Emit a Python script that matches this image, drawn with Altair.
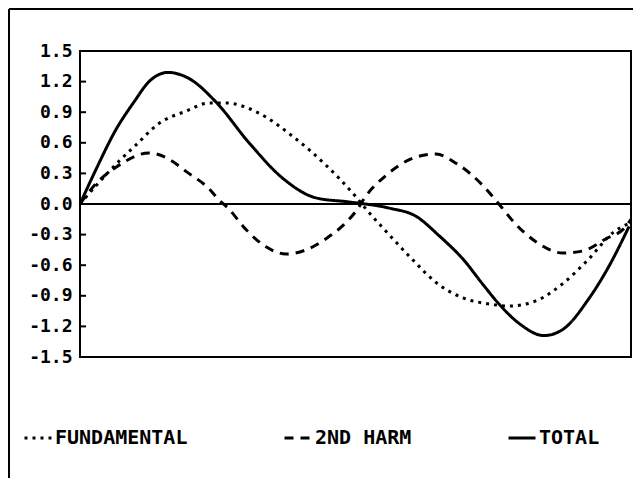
import altair as alt
import pandas as pd

# phase (degrees) and amplitude readings for each curve
fund_x = [0, 9.9, 24.1, 34.6, 48.7, 65.4, 79.6, 90.1, 110.5, 131.5, 151.8, 170.3, 176.5,
          190.7, 205.5, 219.7, 236.3, 252.4, 264.7, 281.3, 297.9, 313.9, 328.9, 338.8]
fund_y = [0, 0.18, 0.42, 0.58, 0.79, 0.91, 0.99, 0.99, 0.89, 0.66, 0.38, 0.07, -0.05,
          -0.3, -0.55, -0.77, -0.92, -0.98, -1.0, -0.95, -0.78, -0.54, -0.28, -0.19]

harm_x = [0, 9.9, 22.2, 42.6, 54.9, 65.4, 79.6, 85.8, 91.9, 102.4, 114.8, 127.1, 139.4,
          151.8, 162.3, 170.3, 176.5, 188.8, 207.3, 219.7, 232.0, 248.7, 258.5, 269.0,
          281.3, 297.9, 310.4, 324.6, 336.9, 340.0]
harm_y = [0, 0.2, 0.36, 0.5, 0.44, 0.32, 0.15, 0.04, -0.05, -0.25, -0.42, -0.49, -0.45,
          -0.34, -0.21, -0.07, 0.08, 0.28, 0.46, 0.49, 0.4, 0.18, 0.0, -0.2,
          -0.37, -0.48, -0.46, -0.34, -0.22, -0.15]

total_x = [0, 9.9, 22.2, 33.3, 42.6, 54.3, 67.3, 83.9, 104.3, 125.3, 145.6, 166.0, 190.7,
           207.3, 221.5, 236.3, 248.7, 258.5, 270.9, 286.3, 297.9, 313.9, 326.4, 338.8]
total_y = [0, 0.34, 0.73, 1.0, 1.2, 1.29, 1.23, 1.0, 0.6, 0.25, 0.06, 0.02, -0.04,
           -0.12, -0.31, -0.54, -0.79, -0.98, -1.17, -1.29, -1.23, -0.93, -0.61, -0.22]

series = ["FUNDAMENTAL", "2ND HARM", "TOTAL"]
tick_values = [1.5, 1.2, 0.9, 0.6, 0.3, 0.0, -0.3, -0.6, -0.9, -1.2, -1.5]

rows = []
for name, xs, ys in [(series[0], fund_x, fund_y), (series[1], harm_x, harm_y), (series[2], total_x, total_y)]:
    for i, (a, b) in enumerate(zip(xs, ys)):
        rows.append({"series": name, "deg": a, "value": b, "order": i})
df = pd.DataFrame(rows)

FONT = "DejaVu Sans Mono"

yscale = alt.Scale(domain=[-1.5, 1.5], nice=False, zero=False)
yaxis = alt.Axis(values=tick_values, ticks=False, domain=False, grid=False,
                 labelExpr="(datum.value < -0.001 ? '-' : '') + format(abs(datum.value), '.1f')",
                 labelFont=FONT, labelFontWeight="bold", labelFontSize=18,
                 labelColor="black", labelPadding=8)


def y_enc():
    return alt.Y("value:Q", scale=yscale, axis=yaxis, title=None)


lines = alt.Chart(df).mark_line(color="black", strokeWidth=3, interpolate="monotone").encode(
    x=alt.X("deg:Q", scale=alt.Scale(domain=[0, 340], nice=False, zero=False), axis=None),
    y=y_enc(),
    order="order:Q",
    strokeDash=alt.StrokeDash(
        "series:N", title=None,
        scale=alt.Scale(domain=series, range=[[3, 5], [9, 7], [1, 0]]),
        legend=alt.Legend(orient="none", legendX=-57, legendY=372, direction="horizontal",
                          columns=3, columnPadding=90, padding=0,
                          symbolType="stroke", symbolSize=729, symbolStrokeWidth=3,
                          symbolStrokeColor="black",
                          labelFont=FONT, labelFontWeight="bold", labelFontSize=20,
                          labelColor="black", labelOffset=2, labelLimit=400),
    ),
)

zero = alt.Chart(pd.DataFrame({"value": [0.0]})).mark_rule(color="black", strokeWidth=2).encode(
    y=y_enc()
)

ticks = alt.Chart(pd.DataFrame({"value": tick_values})).mark_rule(color="black", strokeWidth=2).encode(
    y=y_enc(), x=alt.value(0), x2=alt.value(6)
)

frame_top = alt.Chart(pd.DataFrame({"value": [0.0]})).mark_rule(color="black", strokeWidth=2).encode(
    x=alt.value(-71), x2=alt.value(553), y=alt.value(-42)
)
frame_left = alt.Chart(pd.DataFrame({"value": [0.0]})).mark_rule(color="black", strokeWidth=2).encode(
    x=alt.value(-71), y=alt.value(-42), y2=alt.value(427)
)

chart = alt.layer(lines, zero, ticks, frame_top, frame_left).properties(
    width=551, height=306,
    padding={"left": 72, "top": 43, "right": 3, "bottom": 122},
    autosize=alt.AutoSizeParams(type="none"),
    background="white",
).configure_view(stroke="black", strokeWidth=2)

chart.save("out.html", embed_options={"renderer": "svg", "actions": False})
